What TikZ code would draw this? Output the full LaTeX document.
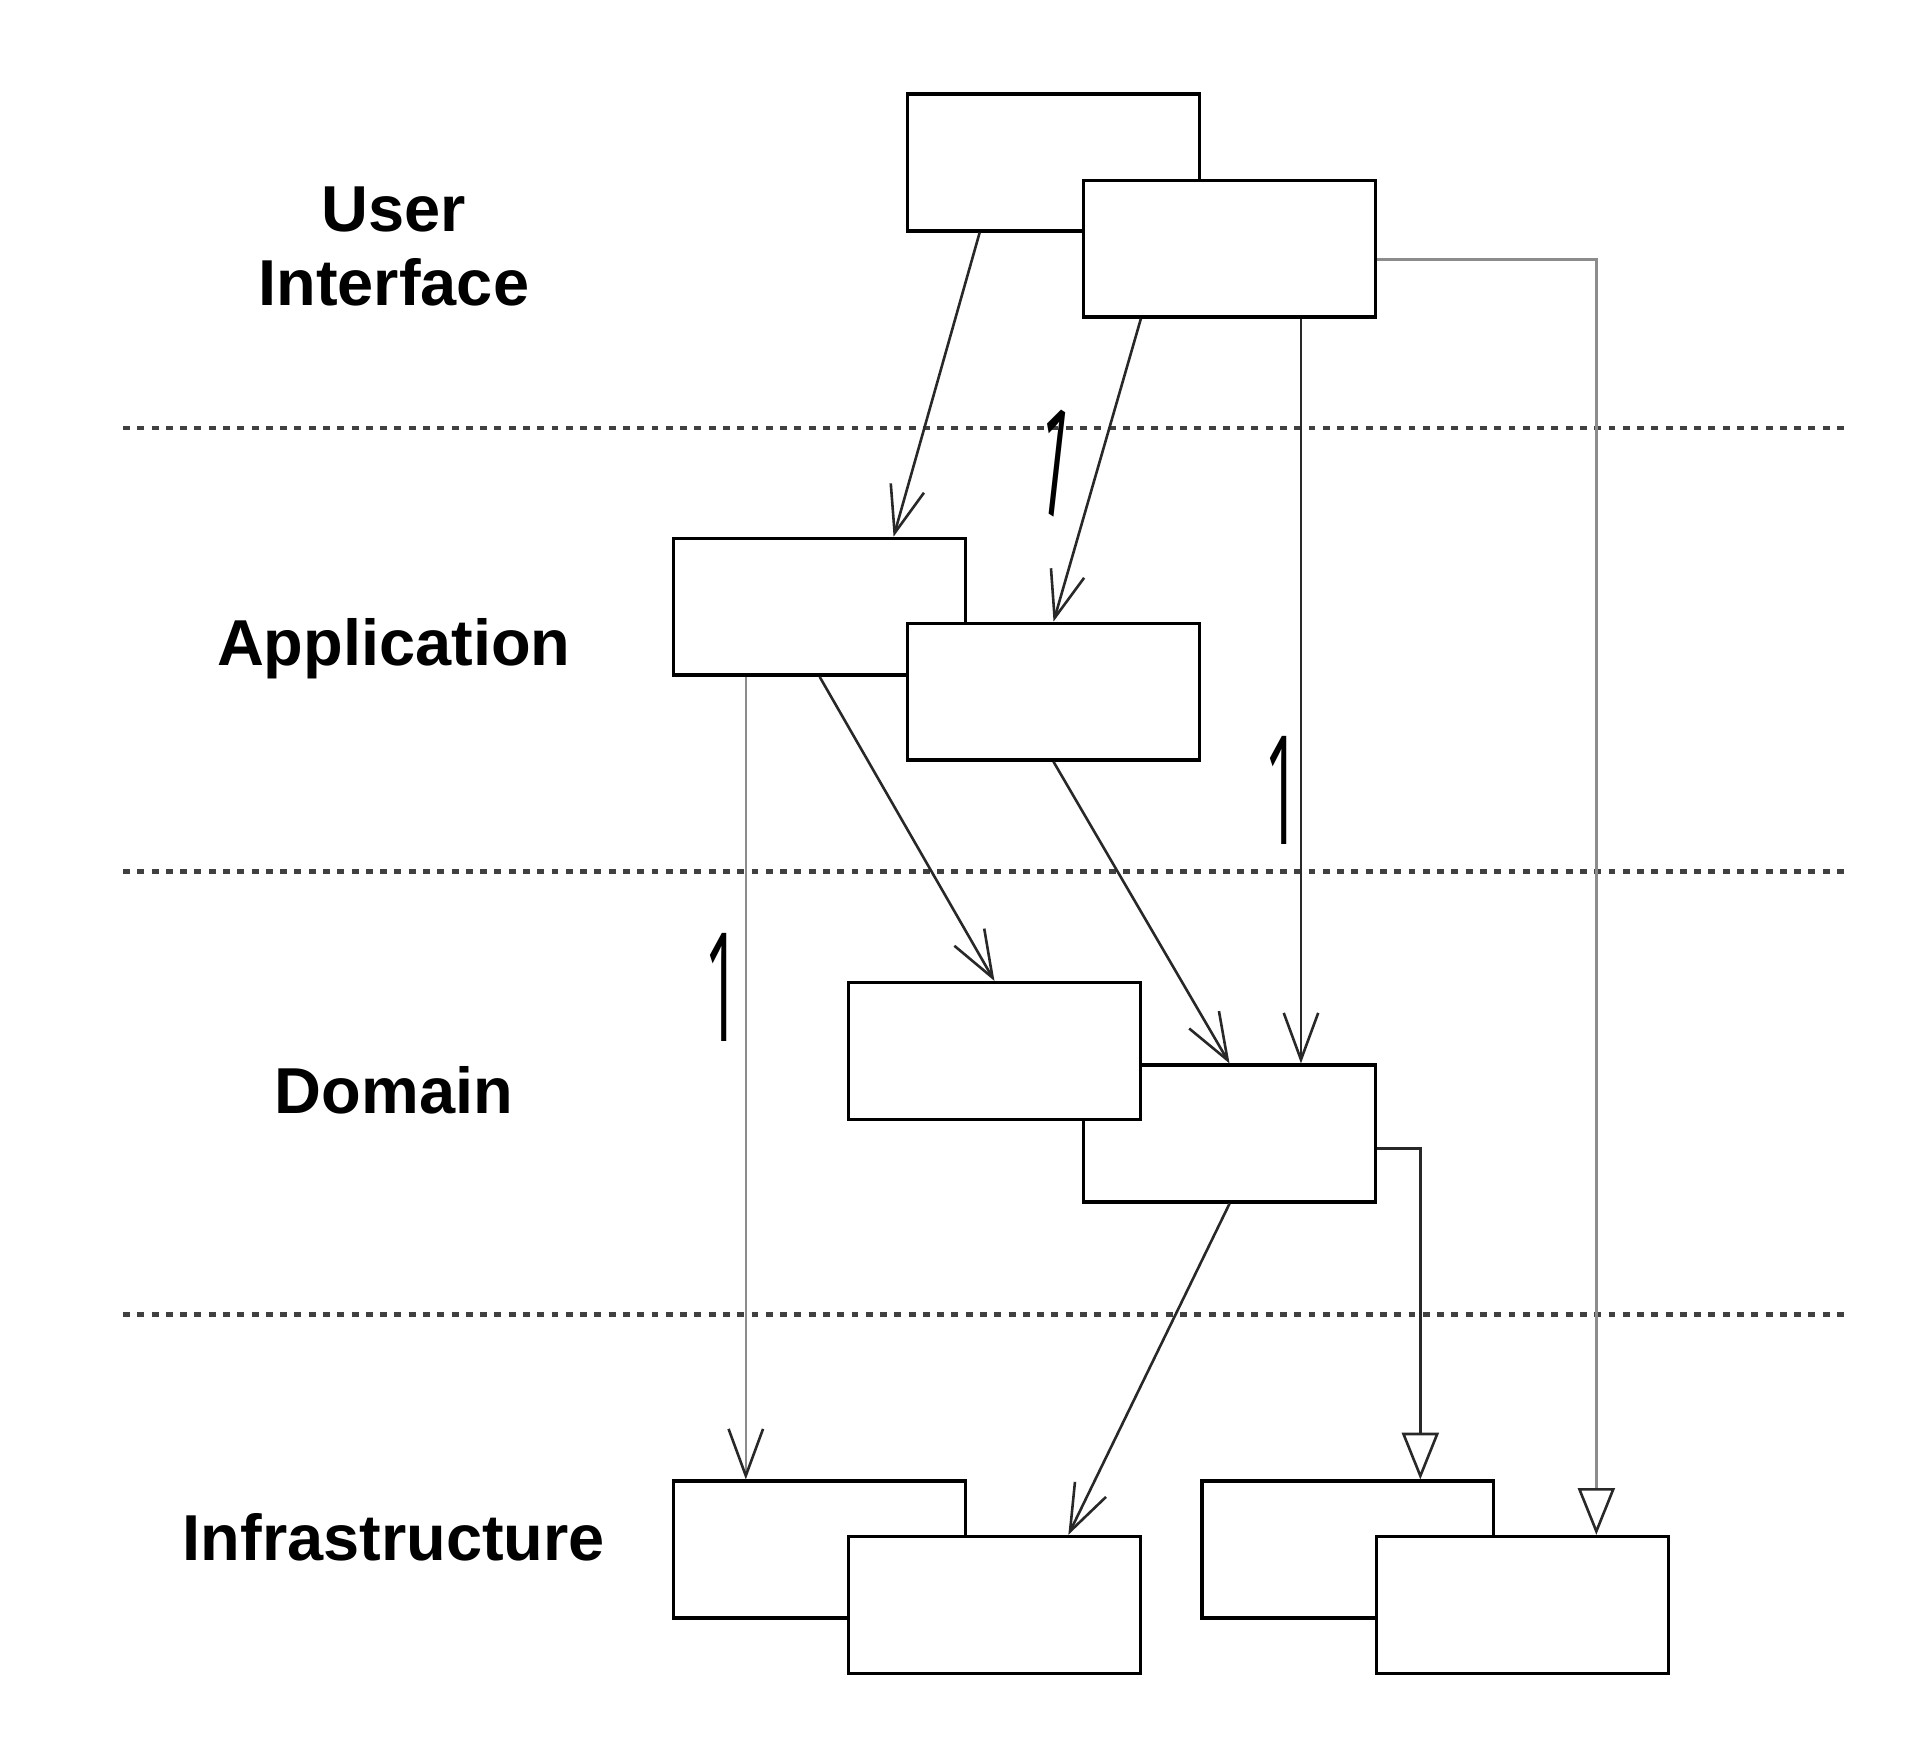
\documentclass[tikz,border=0pt]{standalone}
\usepackage{fontspec}
\setmainfont{Liberation Sans}
\newfontfamily\multfont{Open Sans}
\usetikzlibrary{arrows.meta}

\definecolor{linecolor}{RGB}{40, 40, 40}
\definecolor{palecolor}{RGB}{140, 140, 140}

\begin{document}
\begin{tikzpicture}[x=0.01cm, y=-0.01cm,
    box/.style={draw = black, fill = white, line width=0.8pt, minimum width=2.37cm, minimum height=1.11cm, inner sep=0pt},
    dep/.style={draw, line width=0.6pt, linecolor, -{Straight Barb[length=0.38cm, width=0.28cm, color=linecolor]}},
    inh/.style={draw, line width=0.6pt, linecolor, -{Triangle[open, length=0.38cm, width=0.3cm, fill=white, color=linecolor]}},
    sep/.style={line width=1pt, black!75, dash pattern=on 1.6pt off 1.7pt},
    layerlabel/.style={font=\fontsize{15}{17}\selectfont\bfseries, anchor=base, align=center},
    mult/.style={font=\fontsize{35}{35}\selectfont\multfont, xscale=0.42, inner sep=0pt}
    ]

    \useasboundingbox (0,0) rectangle (1560,1418);

    % Layer separators
    \foreach \y in {348, 708, 1068} {
        \draw[sep] (100,\y) -- (1500,\y);
    }

    % Layer names
    \node[layerlabel] (ui) at (320,188) {User};
    \node[layerlabel] (uib) at (320,248) {Interface};
    \node[layerlabel] (app) at (320,541) {Application};
    \node[layerlabel] (dom) at (320,905) {Domain};
    \node[layerlabel] (inf) at (320,1268) {Infrastructure};

    % Classes, back to front
    \foreach \name/\x/\y in {ui1/856/132, ui2/999/202,
                             app1/666/493, app2/856/562,
                             dom2/999/921, dom1/808/854,
                             inf1/666/1259, inf2/808/1304,
                             inf3/1095/1259, inf4/1237/1304} {
        \node[box] (\name) at (\x,\y) {};
    }

    % Dependencies
    \draw[dep] ([xshift=-0.6cm]ui1.south) -- ([xshift=0.6cm]app1.north);
    \draw[dep] ([xshift=-0.72cm]ui2.south) -- (app2.north);
    \draw[dep] ([xshift=0.58cm]ui2.south) -- ([xshift=0.58cm]dom2.north);
    \draw[dep, palecolor] ([xshift=-0.6cm]app1.south) -- ([xshift=-0.6cm]inf1.north);
    \draw[dep] (app1.south) -- (dom1.north);
    \draw[dep] (app2.south) -- (dom2.north);
    \draw[dep] (dom2.south) -- ([xshift=0.6cm]inf2.north);

    % Realizations
    \draw[inh, palecolor] ([yshift=-0.09cm]ui2.east) -| ([xshift=0.6cm]inf4.north);
    \draw[inh] ([yshift=-0.12cm]dom2.east) -| ([xshift=0.59cm]inf3.north);

    % Multiplicities
    \node[mult, rotate=-15] (m1) at (858,376) {1};
    \node[mult] (m2) at (1042,642) {1};
    \node[mult] (m3) at (587,802) {1};
\end{tikzpicture}
\end{document}
